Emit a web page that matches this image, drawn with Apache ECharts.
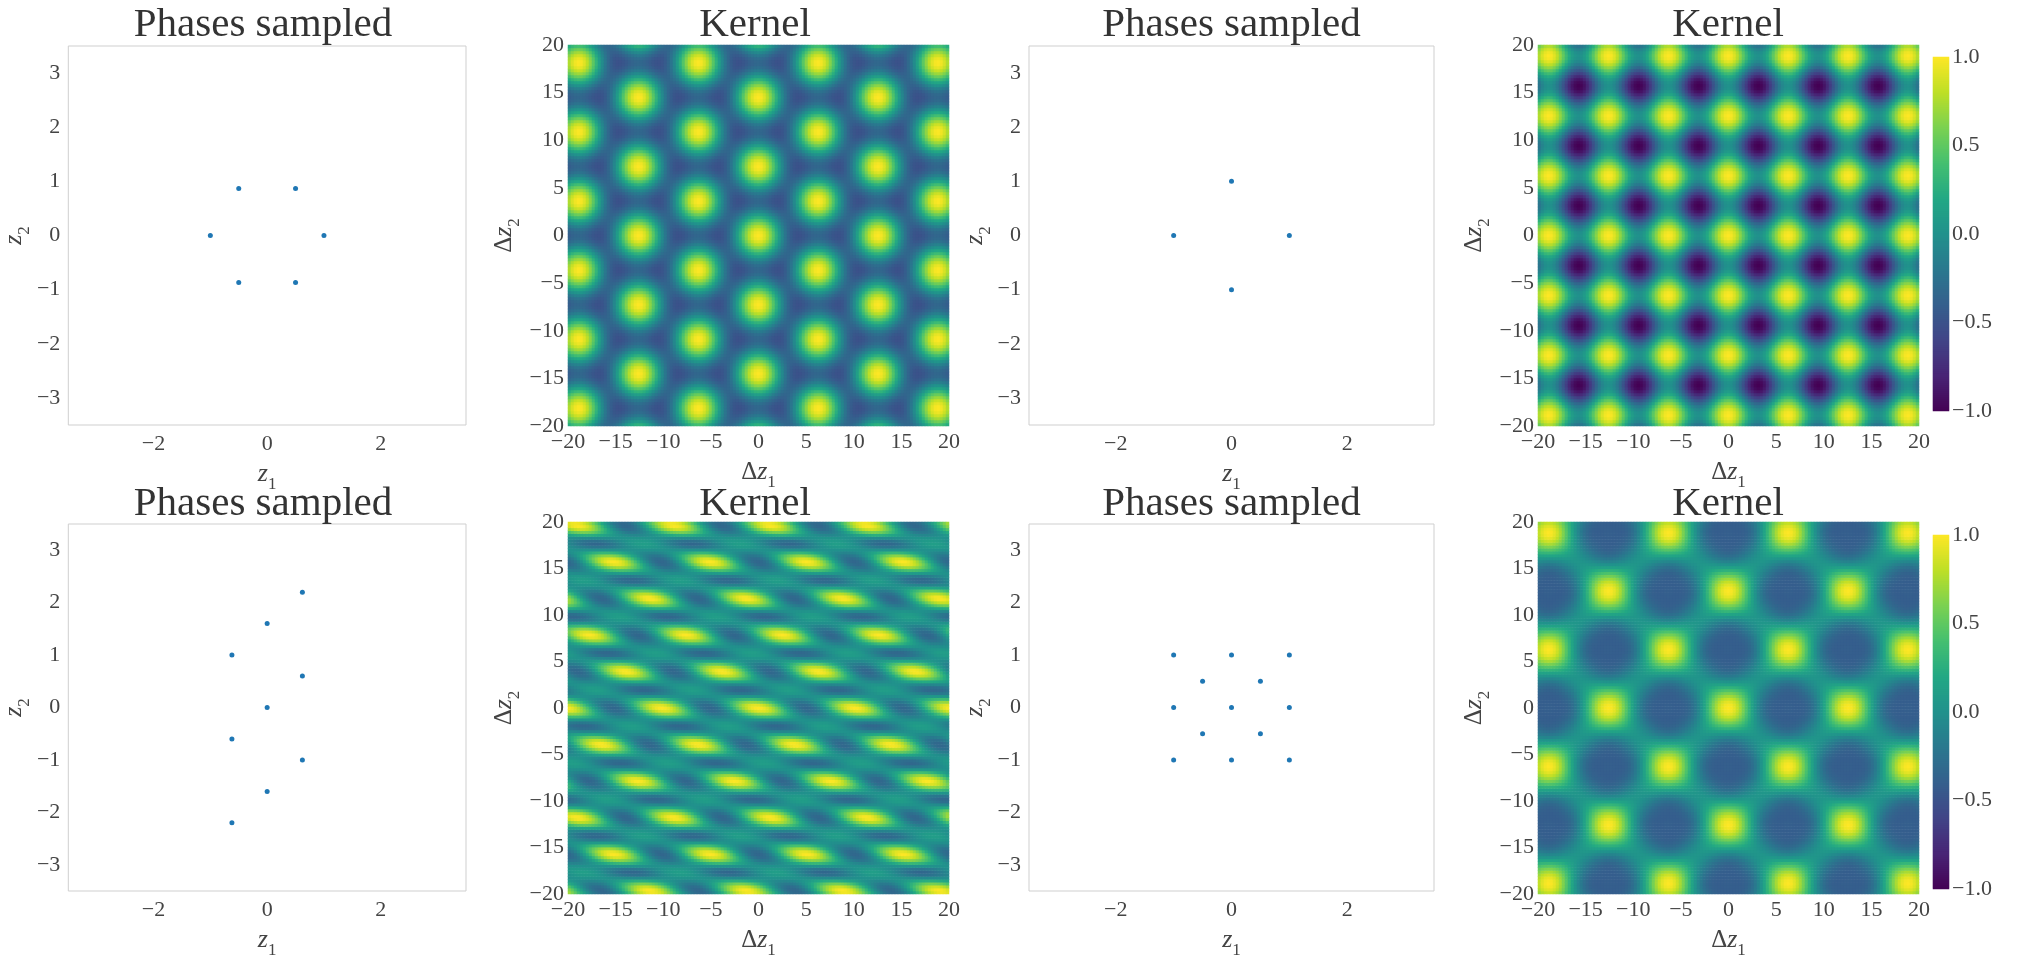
<!DOCTYPE html>
<html><head><meta charset="utf-8">
<script src="https://cdn.jsdelivr.net/npm/echarts@6/dist/echarts.min.js"></script>
<style>html,body{margin:0;padding:0;background:#fff}#c{width:2021px;height:960px}</style>
</head><body><div id="c"></div>
<script>
// ---------------- data ----------------
// sampled phases (z1, z2) for each of the four panels
const phasesHex = [[1,0],[0.5,0.866],[-0.5,0.866],[-1,0],[-0.5,-0.866],[0.5,-0.866]];
const phasesSquare = [[1,0],[0,1],[-1,0],[0,-1]];
const phasesOblique = [[-0.62,-2.2],[-0.62,-0.6],[-0.62,1.0],[0,-1.6],[0,0],[0,1.6],[0.62,-1.0],[0.62,0.6],[0.62,2.2]];
const phasesLattice = [[-1,1],[0,1],[1,1],[-0.5,0.5],[0.5,0.5],[-1,0],[0,0],[1,0],[-0.5,-0.5],[0.5,-0.5],[-1,-1],[0,-1],[1,-1]];
// relative sampling weight of each phase (estimated from the kernel images)
const weightsHex = [1,1,1,1,1,1];
const weightsSquare = [1,1,1,1];
const weightsOblique = [1,1,1,1,1,1,1,1,1];
const weightsLattice = [1,1,1,5.25,5.25,1,1,1,5.25,5.25,1,1,1];
// tick labels
const phaseXTicks = [-2,0,2];
const phaseYTicks = [-3,-2,-1,0,1,2,3];
const kernelTicks = [-20,-15,-10,-5,0,5,10,15,20];
const colorbarTicks = [-1,-0.5,0,0.5,1];
const titlePhases = 'Phases sampled';
const titleKernel = 'Kernel';

// ---------------- rendering ----------------
const FONT = '"Liberation Serif", "DejaVu Serif", serif';
const TXT = '#444';
const viridis = ['#440154','#482475','#414487','#355f8d','#2a788e','#21918c','#22a884','#44bf70','#7ad151','#bddf26','#fde725'];
const minus = s => s.replace('-', '\u2212');
const has = (arr, v) => arr.some(t => Math.abs(t - v) < 1e-6);
const N = 127;   // kernel cells per side
const M = 177;   // colorbar cells
const cells = Array.from({length: N}, (_, i) => String(i));
const cbCells = Array.from({length: M}, (_, i) => String(i));

function kernelData(ph, w) {
  const tot = w.reduce((a, b) => a + b, 0);
  const out = [];
  for (let i = 0; i < N; i++) {
    const x = -20 + (i + 0.5) * 40 / N;
    for (let j = 0; j < N; j++) {
      const y = -20 + (j + 0.5) * 40 / N;
      let s = 0;
      for (let k = 0; k < ph.length; k++) s += w[k] * Math.cos(ph[k][0] * x + ph[k][1] * y);
      out.push([i, j, s / tot]);
    }
  }
  return out;
}

const labelStyle = {fontFamily: FONT, fontSize: 22, color: TXT};
function nameStyle() {
  return {fontFamily: FONT, fontSize: 25, color: TXT,
    rich: {
      d: {fontFamily: FONT, fontSize: 25, color: TXT, verticalAlign: 'bottom', padding: [0,0,6,0]},
      i: {fontFamily: FONT, fontSize: 26, fontStyle: 'italic', color: TXT, verticalAlign: 'bottom', padding: [0,0,6,0]},
      s: {fontFamily: FONT, fontSize: 17, color: TXT, verticalAlign: 'bottom'}
    }};
}

const panels = [
  {phases: phasesHex, w: weightsHex, row: 0, col: 0, cb: false},
  {phases: phasesSquare, w: weightsSquare, row: 0, col: 1, cb: true},
  {phases: phasesOblique, w: weightsOblique, row: 1, col: 0, cb: false},
  {phases: phasesLattice, w: weightsLattice, row: 1, col: 1, cb: true}
];
const phaseLeft = [60, 1029], phaseW = [406, 405];
const kernLeft = [568, 1538];
const kernTitleX = [755, 1728];
const phaseTop = [46, 524], phaseH = [379, 378];
const kernTop = [45, 522];
const cbLeft = 1933, cbW = 16;
const cbTop = [57, 535], cbH = [354, 354];
const titleY = [25, 504];

const grid = [], xAxis = [], yAxis = [], series = [], graphic = [], heatIdx = [];

panels.forEach(p => {
  // ---- phases scatter ----
  let gi = grid.length;
  grid.push({left: phaseLeft[p.col], top: phaseTop[p.row], width: phaseW[p.col], height: phaseH[p.row],
    show: true, borderColor: '#cfcfcf', borderWidth: 1});
  let xi = xAxis.length, yi = yAxis.length;
  xAxis.push({type: 'value', gridIndex: gi, position: 'bottom', min: -3.5, max: 3.5, interval: 0.5,
    axisLine: {show: false}, axisTick: {show: false}, splitLine: {show: false},
    axisLabel: Object.assign({margin: 8, formatter: v => has(phaseXTicks, v) ? minus(String(Math.round(v))) : ''}, labelStyle),
    name: '{i|z}{s|1}', nameLocation: 'middle', nameGap: 36, nameTextStyle: nameStyle()});
  yAxis.push({type: 'value', gridIndex: gi, position: 'left', min: -3.5, max: 3.5, interval: 0.5,
    axisLine: {show: false}, axisTick: {show: false}, splitLine: {show: false},
    axisLabel: Object.assign({margin: 8, formatter: v => has(phaseYTicks, v) ? minus(String(Math.round(v))) : ''}, labelStyle),
    name: '{i|z}{s|2}', nameLocation: 'middle', nameGap: 30, nameTextStyle: nameStyle()});
  series.push({type: 'scatter', xAxisIndex: xi, yAxisIndex: yi, data: p.phases, symbolSize: 5,
    itemStyle: {color: '#1f77b4', opacity: 1}, silent: true, animation: false});
  graphic.push({type: 'text', x: phaseLeft[p.col] + phaseW[p.col] / 2, y: titleY[p.row], silent: true,
    style: {text: titlePhases, fontFamily: FONT, fontSize: 41, fill: '#333', align: 'center', verticalAlign: 'middle', textAlign: 'center', textVerticalAlign: 'middle'}});

  // ---- kernel heatmap ----
  gi = grid.length;
  grid.push({left: kernLeft[p.col], top: kernTop[p.row], width: 381, height: 381, show: false});
  xAxis.push({type: 'value', gridIndex: gi, position: 'bottom', min: -20, max: 20, interval: 5,
    axisLine: {show: false}, axisTick: {show: false}, splitLine: {show: false},
    axisLabel: Object.assign({margin: 5, formatter: v => has(kernelTicks, v) ? minus(String(v)) : ''}, labelStyle),
    name: '{d|Δ}{i|z}{s|1}', nameLocation: 'middle', nameGap: 33, nameTextStyle: nameStyle(), z: 5});
  yAxis.push({type: 'value', gridIndex: gi, position: 'left', min: -20, max: 20, interval: 5,
    axisLine: {show: false}, axisTick: {show: false}, splitLine: {show: false},
    axisLabel: Object.assign({margin: 4, formatter: v => has(kernelTicks, v) ? minus(String(v)) : ''}, labelStyle),
    name: '{d|Δ}{i|z}{s|2}', nameLocation: 'middle', nameGap: 45, nameTextStyle: nameStyle(), z: 5});
  xi = xAxis.length; yi = yAxis.length;
  xAxis.push({type: 'category', gridIndex: gi, position: 'top', data: cells, boundaryGap: true, show: false});
  yAxis.push({type: 'category', gridIndex: gi, position: 'right', data: cells, boundaryGap: true, show: false});
  heatIdx.push(series.length);
  series.push({type: 'heatmap', xAxisIndex: xi, yAxisIndex: yi, data: kernelData(p.phases, p.w),
    progressive: 0, silent: true, animation: false, emphasis: {disabled: true}, itemStyle: {borderWidth: 0}});
  graphic.push({type: 'text', x: kernTitleX[p.col], y: titleY[p.row], silent: true,
    style: {text: titleKernel, fontFamily: FONT, fontSize: 41, fill: '#333', align: 'center', verticalAlign: 'middle', textAlign: 'center', textVerticalAlign: 'middle'}});

  // ---- colorbar ----
  if (p.cb) {
    gi = grid.length;
    grid.push({left: cbLeft, top: cbTop[p.row], width: cbW, height: cbH[p.row], show: false});
    xi = xAxis.length;
    xAxis.push({type: 'category', gridIndex: gi, data: ['0'], boundaryGap: true, show: false});
    yi = yAxis.length;
    yAxis.push({type: 'category', gridIndex: gi, position: 'left', data: cbCells, boundaryGap: true, show: false});
    yAxis.push({type: 'value', gridIndex: gi, position: 'right', min: -1, max: 1, interval: 0.5,
      axisLine: {show: false}, axisTick: {show: false}, splitLine: {show: false},
      axisLabel: Object.assign({margin: 3, formatter: v => has(colorbarTicks, v) ? minus(v.toFixed(1)) : ''}, labelStyle)});
    heatIdx.push(series.length);
    series.push({type: 'heatmap', xAxisIndex: xi, yAxisIndex: yi,
      data: cbCells.map((c, j) => [0, j, -1 + (j + 0.5) * 2 / M]),
      progressive: 0, silent: true, animation: false, emphasis: {disabled: true}});
  }
});

const chart = echarts.init(document.getElementById('c'), null, {renderer: 'canvas', width: 2021, height: 960});
chart.setOption({
  animation: false,
  backgroundColor: '#ffffff',
  grid, xAxis, yAxis, series, graphic,
  visualMap: [{type: 'continuous', min: -1, max: 1, dimension: 2, seriesIndex: heatIdx, show: false,
    inRange: {color: viridis}}]
});
</script>
</body></html>
